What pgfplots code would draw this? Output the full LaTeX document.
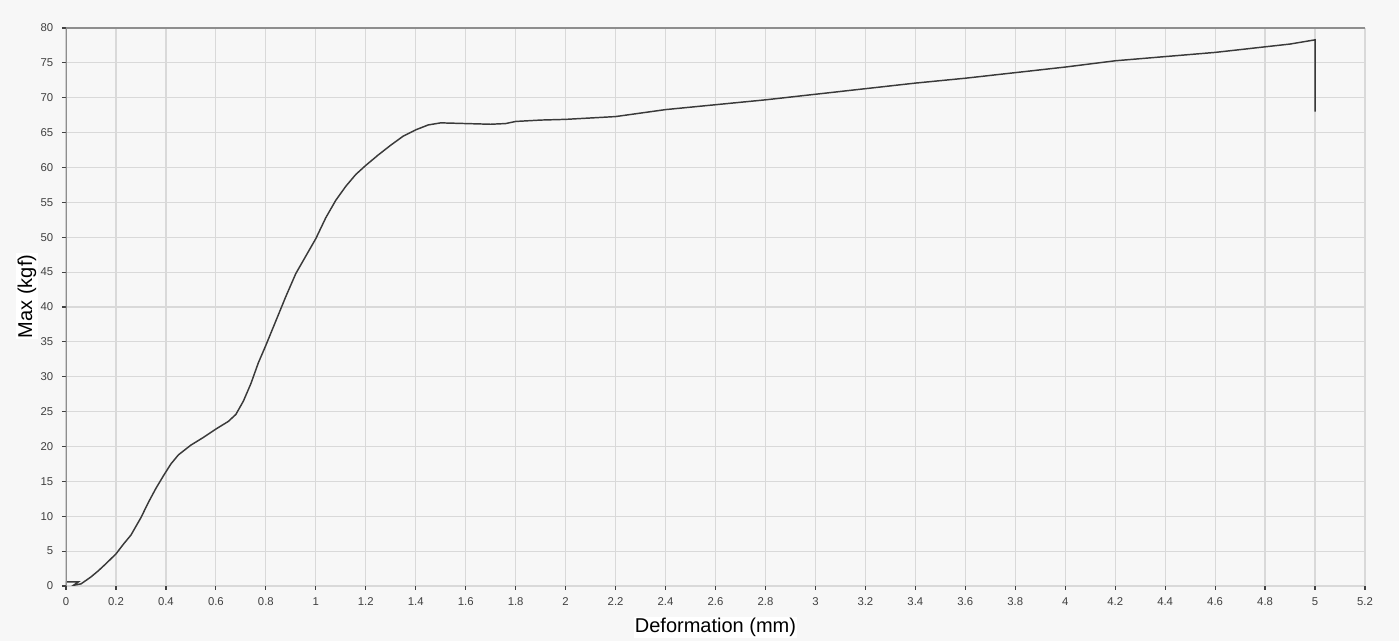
\documentclass[border=0pt]{standalone}
\usepackage{pgfplots}
\pgfplotsset{compat=1.18}
\usepackage{fontspec}
\setmainfont{Liberation Sans}
\usetikzlibrary{backgrounds}
\definecolor{bg}{HTML}{F7F7F7}
\definecolor{gridc}{HTML}{D9D9D9}
\definecolor{framec}{HTML}{8E8E8E}
\definecolor{curvec}{HTML}{3A3A3A}
\definecolor{tickc}{HTML}{404040}
\begin{document}
\begin{tikzpicture}
\begin{axis}[
  width=974.25pt, height=418.5pt, scale only axis,
  xmin=0, xmax=5.2, ymin=0, ymax=80,
  xtick={0,0.2,0.4,0.6,0.8,1,1.2,1.4,1.6,1.8,2,2.2,2.4,2.6,2.8,3,3.2,3.4,3.6,3.8,4,4.2,4.4,4.6,4.8,5,5.2},
  ytick={0,5,10,15,20,25,30,35,40,45,50,55,60,65,70,75,80},
  xtick pos=bottom, ytick pos=left,
  /pgf/number format/assume math mode=true,
  tick label style={font=\fontsize{8.5}{10}\selectfont, text=tickc},
  tick align=outside, major tick length=3pt,
  tick style={draw=tickc, line width=0.9pt},
  grid=major,
  major grid style={draw=gridc, line width=0.9pt},
  axis line style={draw=none},
  axis background/.style={fill=bg},
  xlabel={Deformation (mm)},
  ylabel={Max (kgf)},
  label style={font=\fontsize{15}{18}\selectfont, text=black, fill=white, inner sep=1pt},
  xlabel style={at={(axis description cs:0.5,-0.074)}, anchor=center},
  ylabel style={at={(axis description cs:-0.030,0.519)}, anchor=center, rotate=0},
  xticklabel style={yshift=-2pt},
  yticklabel style={xshift=-3pt},
]
\addplot[curvec, line width=1.1pt] table {
x y
0 0
0 0.6
0.05 0.6
0.03 0.1
0.06 0.3
0.08 0.8
0.1 1.3
0.13 2.2
0.16 3.2
0.2 4.6
0.23 6.0
0.26 7.3
0.3 9.8
0.33 12.0
0.36 14.0
0.39 15.8
0.42 17.5
0.45 18.8
0.5 20.2
0.55 21.3
0.6 22.5
0.65 23.6
0.68 24.6
0.71 26.5
0.74 29.0
0.77 32.0
0.8 34.5
0.84 38.0
0.88 41.5
0.92 44.8
0.96 47.3
1.0 49.8
1.04 52.8
1.08 55.3
1.12 57.3
1.16 59.0
1.2 60.3
1.25 61.8
1.3 63.2
1.35 64.5
1.4 65.4
1.45 66.1
1.5 66.4
1.6 66.3
1.7 66.2
1.76 66.3
1.8 66.6
1.9 66.8
2.0 66.9
2.1 67.1
2.2 67.3
2.3 67.8
2.4 68.3
2.6 69.0
2.8 69.7
3.0 70.5
3.2 71.3
3.4 72.1
3.6 72.8
3.8 73.6
4.0 74.4
4.2 75.3
4.4 75.9
4.6 76.5
4.8 77.3
4.9 77.7
5.0 78.3
5.0 68.0
};
\draw[framec, line width=1.4pt] (rel axis cs:0,0) -- (rel axis cs:0,1) -- (rel axis cs:1,1);
\coordinate (O) at (rel axis cs:0,0);
\coordinate (TR) at (rel axis cs:1,1);
\end{axis}
\begin{scope}[on background layer]
\fill[bg] ([xshift=-49.5pt,yshift=-41.25pt]O) rectangle ([xshift=25.5pt,yshift=21pt]TR);
\end{scope}
\end{tikzpicture}
\end{document}
